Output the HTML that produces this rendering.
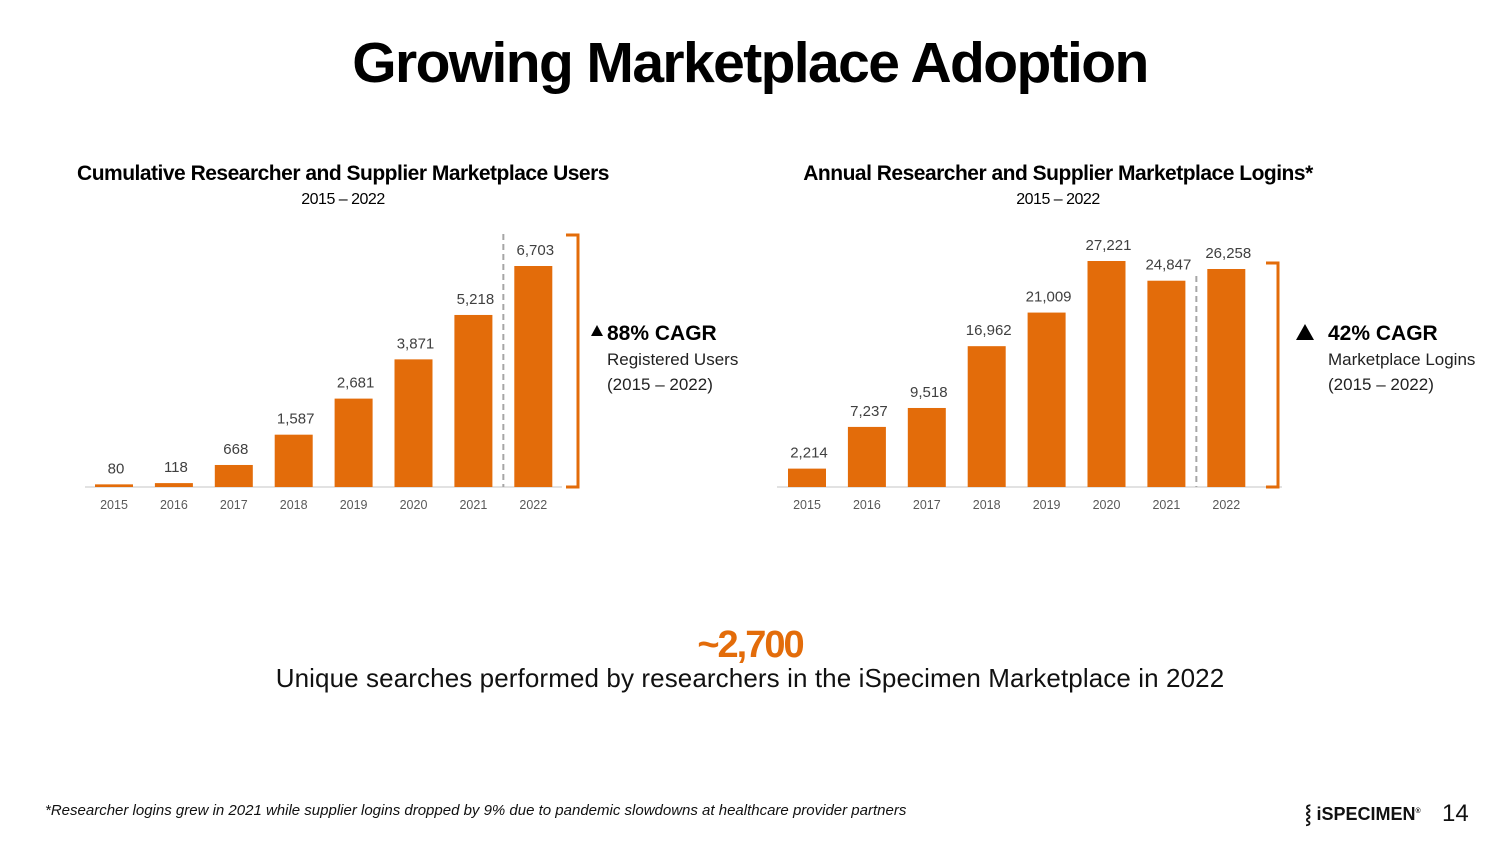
<!DOCTYPE html>
<html><head><meta charset="utf-8"><style>
body{margin:0;width:1500px;height:844px;background:#fff;font-family:"Liberation Sans",sans-serif;overflow:hidden;position:relative}
.abs{position:absolute}
</style></head><body>
<div class="abs" style="left:0;width:1500px;top:30px;text-align:center;font-size:57px;font-weight:bold;letter-spacing:-1.6px;color:#000">Growing Marketplace Adoption</div>
<div class="abs" style="left:43px;width:600px;top:162px;text-align:center;font-size:21px;font-weight:bold;letter-spacing:-0.5px">Cumulative Researcher and Supplier Marketplace Users</div>
<div class="abs" style="left:43px;width:600px;top:191px;text-align:center;font-size:16px;letter-spacing:-0.5px">2015 – 2022</div>
<div class="abs" style="left:758px;width:600px;top:162px;text-align:center;font-size:21px;font-weight:bold;letter-spacing:-0.5px">Annual Researcher and Supplier Marketplace Logins*</div>
<div class="abs" style="left:758px;width:600px;top:191px;text-align:center;font-size:16px;letter-spacing:-0.5px">2015 –  2022</div>
<svg class="abs" style="left:0;top:0" width="1500" height="844">
<g id="left"></g><g id="right"></g>
<text x="607" y="340" font-size="21" font-weight="bold" fill="#000">88% CAGR</text>
<polygon points="591,336 597,325 603,336" fill="#000"/>
<text x="607" y="365" font-size="17" fill="#222">Registered Users</text>
<text x="607" y="390" font-size="17" fill="#222">(2015 – 2022)</text>
<text x="1328" y="340" font-size="21" font-weight="bold" fill="#000">42% CAGR</text>
<polygon points="1296,340 1305,324 1314,340" fill="#000"/>
<text x="1328" y="365" font-size="17" fill="#222">Marketplace Logins</text>
<text x="1328" y="390" font-size="17" fill="#222">(2015 – 2022)</text>
<path d="M566,235 H578 V487 H566" fill="none" stroke="#e36c0a" stroke-width="3"/>
<path d="M1266,263 H1278 V487 H1266" fill="none" stroke="#e36c0a" stroke-width="3"/>
</svg>
<div class="abs" style="left:0;width:1500px;top:624px;text-align:center;font-size:38px;font-weight:bold;color:#e36c0a;letter-spacing:-2px">~2,700</div>
<div class="abs" style="left:0;width:1500px;top:663px;text-align:center;font-size:26px;color:#111;letter-spacing:0.1px">Unique searches performed by researchers in the iSpecimen Marketplace in 2022</div>
<div class="abs" style="left:45px;top:802px;font-size:15px;font-style:italic;color:#111">*Researcher logins grew in 2021 while supplier logins dropped by 9% due to pandemic slowdowns at healthcare provider partners</div>
<div class="abs" style="left:1305px;top:802px;font-size:18px;font-weight:bold;color:#111">⸾ iSPECIMEN<sup style="font-size:7px">®</sup></div>
<div class="abs" style="left:1442px;top:800px;font-size:24px;color:#111">14</div>
<script>
const years=["2015","2016","2017","2018","2019","2020","2021","2022"];
const usersValues=[80,118,668,1587,2681,3871,5218,6703];
const usersLabels=["80","118","668","1,587","2,681","3,871","5,218","6,703"];
const loginsValues=[2214,7237,9518,16962,21009,27221,24847,26258];
const loginsLabels=["2,214","7,237","9,518","16,962","21,009","27,221","24,847","26,258"];
const NS="http://www.w3.org/2000/svg";
function mk(g,t,a){const e=document.createElementNS(NS,t);for(const k in a)e.setAttribute(k,a[k]);g.appendChild(e);return e;}
function draw(gid,vals,labs,x0,axL,axR,scaleMax,scalePx,dashTop,prefix){
 const g=document.getElementById(gid);const base=487,step=59.9,bw=38;
 const y=v=>base-v/scaleMax*scalePx;
 const ax=mk(g,'line',{x1:axL,x2:axR,y1:base,y2:base,stroke:'#d9d9d9','stroke-width':1.5});
 
 
 vals.forEach((v,i)=>{const cx=x0+i*step;
  const r=mk(g,'rect',{x:cx-bw/2,y:y(v),width:bw,height:base-y(v),fill:'#e36c0a'});
  
  
  const t=mk(g,'text',{x:cx+2,y:y(v)-11,'text-anchor':'middle','font-size':15,fill:'#404040'});t.textContent=labs[i];
  
  
  const yl=mk(g,'text',{x:cx,y:509,'text-anchor':'middle','font-size':12.5,fill:'#595959'});yl.textContent=years[i];
  
  
 });
 const dx=x0+6.5*step;
 const d=mk(g,'line',{x1:dx,x2:dx,y1:dashTop,y2:base,stroke:'#a6a6a6','stroke-width':2,'stroke-dasharray':'6,4'});
 
 
}
draw('left',usersValues,usersLabels,114,85,562,6703,221,234,'users');
draw('right',loginsValues,loginsLabels,807,777,1282,27221,226,276,'logins');
</script>
</body></html>
